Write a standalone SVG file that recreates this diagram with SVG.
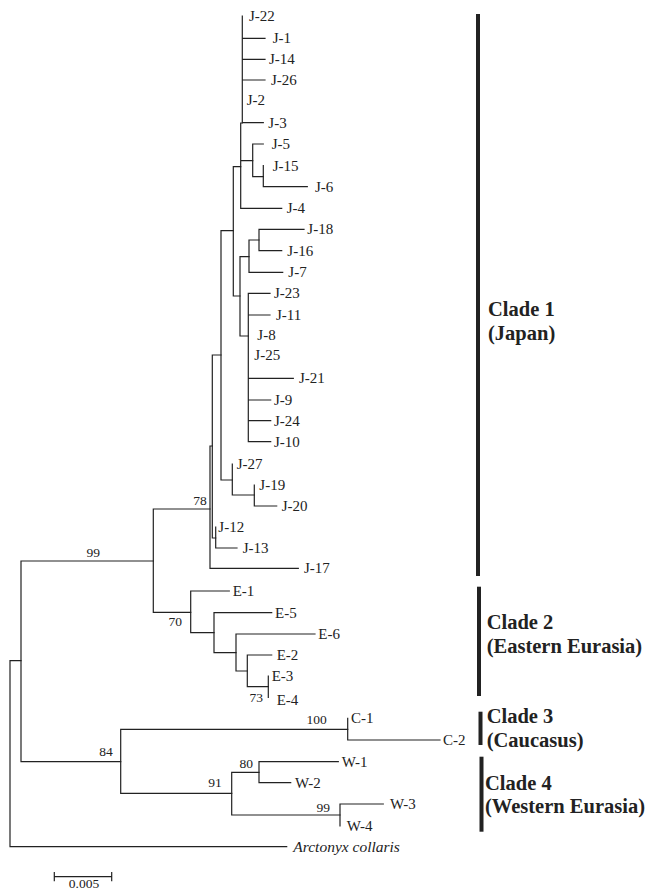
<svg xmlns="http://www.w3.org/2000/svg" width="646" height="892" viewBox="0 0 646 892">
<style>
.br{fill:none;stroke:#222;stroke-width:1.2;stroke-linecap:square}
.lf{font-family:"Liberation Serif","Times New Roman",serif;font-size:15px;fill:#222}
.it{font-style:italic}
.bs{font-family:"Liberation Serif","Times New Roman",serif;font-size:13.5px;fill:#222}
.cl{font-family:"Liberation Serif","Times New Roman",serif;font-size:20.5px;font-weight:bold;fill:#222}
.bar{fill:#222}
</style>
<rect width="646" height="892" fill="#fff"/>
<g id="connectors">
<path class="br" d="M10 660.7V846.7H286.7 M10 660.7H21"/>
<path class="br" d="M21 561V761.7 M21 561H153.3 M21 761.7H120.7"/>
<path class="br" d="M153.3 509V612.3 M153.3 509H210 M153.3 612.3H190.7"/>
<path class="br" d="M190.7 591V632.7 M190.7 591H229.3 M190.7 632.7H214"/>
<path class="br" d="M214 612.7V652.7 M214 612.7H271.7 M214 652.7H236"/>
<path class="br" d="M236 634V671 M236 634H315 M236 671H247.3"/>
<path class="br" d="M247.3 655V686.7 M247.3 655H271.7 M247.3 686.7H268.3"/>
<path class="br" d="M268.3 676V697.3"/>
<path class="br" d="M120.7 729.3V793.3 M120.7 729.3H347.7 M120.7 793.3H231.7"/>
<path class="br" d="M347.7 718.3V740H440"/>
<path class="br" d="M231.7 772.3V815 M231.7 772.3H259 M231.7 815H340"/>
<path class="br" d="M259 761.7V782.7 M259 761.7H338.3 M259 782.7H290.7"/>
<path class="br" d="M340 804V826 M340 804H383.3"/>
<path class="br" d="M210 446V568.3H298.3 M210 446H212.3"/>
<path class="br" d="M212.3 355V538 M212.3 355H221 M212.3 538H215.7"/>
<path class="br" d="M215.7 527V548H237"/>
<path class="br" d="M221 230.7V480 M221 230.7H233.3 M221 480H232.3"/>
<path class="br" d="M232.3 464V495H254.3"/>
<path class="br" d="M254.3 485V506H276.7"/>
<path class="br" d="M233.3 166.7V296 M233.3 166.7H240.7 M233.3 296H240"/>
<path class="br" d="M240.7 123V208.3H281.7 M240.7 123H242.3 M240.7 160.7H252.7"/>
<path class="br" d="M242.3 16V122.7 M242.3 38.3H265 M242.3 59.3H265 M242.3 80H265 M242.3 122.7H263.3"/>
<path class="br" d="M252.7 144V176.7 M252.7 144H263.3 M252.7 176.7H263.3"/>
<path class="br" d="M263.3 165.7V186.7H307.3"/>
<path class="br" d="M240 256.7V336 M240 256.7H249 M240 336H248.3"/>
<path class="br" d="M249 240V272.3H282.7 M249 240H259"/>
<path class="br" d="M259 229.3V250.7 M259 229.3H304 M259 250.7H281.7"/>
<path class="br" d="M248.3 293.3V441.7H270.7 M248.3 293.3H270 M248.3 315H270 M248.3 378.3H293.3 M248.3 400H270.7 M248.3 420.7H270.7"/>
<path class="br" d="M54.3 876.7H111.7 M54.3 872.7V880.7 M111.7 872.7V880.7"/>
</g>
<g id="leaves">
<text class="lf" x="249" y="21">J-22</text>
<text class="lf" x="272.7" y="43.3">J-1</text>
<text class="lf" x="269" y="64.3">J-14</text>
<text class="lf" x="271" y="85">J-26</text>
<text class="lf" x="246.7" y="105">J-2</text>
<text class="lf" x="268.3" y="127.7">J-3</text>
<text class="lf" x="271.7" y="149">J-5</text>
<text class="lf" x="272.7" y="170.7">J-15</text>
<text class="lf" x="315" y="191.7">J-6</text>
<text class="lf" x="286.7" y="213.3">J-4</text>
<text class="lf" x="307.3" y="234.3">J-18</text>
<text class="lf" x="287.3" y="255.7">J-16</text>
<text class="lf" x="288.3" y="277.3">J-7</text>
<text class="lf" x="274" y="298.3">J-23</text>
<text class="lf" x="276" y="320">J-11</text>
<text class="lf" x="257.3" y="340">J-8</text>
<text class="lf" x="254.3" y="360">J-25</text>
<text class="lf" x="299" y="383.3">J-21</text>
<text class="lf" x="274" y="405">J-9</text>
<text class="lf" x="274" y="425.7">J-24</text>
<text class="lf" x="274" y="446.7">J-10</text>
<text class="lf" x="236.7" y="469">J-27</text>
<text class="lf" x="259.3" y="490">J-19</text>
<text class="lf" x="281.7" y="511">J-20</text>
<text class="lf" x="218.3" y="532">J-12</text>
<text class="lf" x="242.7" y="553">J-13</text>
<text class="lf" x="304" y="573.3">J-17</text>
<text class="lf" x="232.7" y="596">E-1</text>
<text class="lf" x="275" y="617.7">E-5</text>
<text class="lf" x="318.3" y="639">E-6</text>
<text class="lf" x="276.7" y="660">E-2</text>
<text class="lf" x="271.7" y="681">E-3</text>
<text class="lf" x="276.7" y="705">E-4</text>
<text class="lf" x="351" y="723">C-1</text>
<text class="lf" x="443" y="745">C-2</text>
<text class="lf" x="341.7" y="766.7">W-1</text>
<text class="lf" x="295" y="787.7">W-2</text>
<text class="lf" x="390" y="809">W-3</text>
<text class="lf" x="346.7" y="831">W-4</text>
<text class="lf it" x="293.3" y="852" style="font-size:15.5px">Arctonyx collaris</text>
</g>
<g id="bootstrap">
<text class="bs" x="100" y="557" text-anchor="end">99</text>
<text class="bs" x="206.7" y="505" text-anchor="end">78</text>
<text class="bs" x="182" y="626" text-anchor="end">70</text>
<text class="bs" x="263" y="702" text-anchor="end">73</text>
<text class="bs" x="326.7" y="724" text-anchor="end">100</text>
<text class="bs" x="112.7" y="756" text-anchor="end">84</text>
<text class="bs" x="221.7" y="787" text-anchor="end">91</text>
<text class="bs" x="253" y="768" text-anchor="end">80</text>
<text class="bs" x="330" y="812" text-anchor="end">99</text>
<text class="bs" x="84" y="888" text-anchor="middle">0.005</text>
</g>
<g id="clade1">
<rect class="bar" x="476" y="14" width="4" height="562"/>
<text class="cl" x="488" y="316">Clade 1</text>
<text class="cl" x="488" y="340">(Japan)</text>
</g>
<g id="clade2">
<rect class="bar" x="477" y="586.7" width="4" height="109.3"/>
<text class="cl" x="486.7" y="629.3">Clade 2</text>
<text class="cl" x="486.7" y="653.3">(Eastern Eurasia)</text>
</g>
<g id="clade3">
<rect class="bar" x="478.5" y="711.7" width="4" height="33.3"/>
<text class="cl" x="486.7" y="722.7">Clade 3</text>
<text class="cl" x="486.7" y="746.7">(Caucasus)</text>
</g>
<g id="clade4">
<rect class="bar" x="479.5" y="756.7" width="4" height="75"/>
<text class="cl" x="485" y="790">Clade 4</text>
<text class="cl" x="485" y="813.3">(Western Eurasia)</text>
</g>
</svg>
